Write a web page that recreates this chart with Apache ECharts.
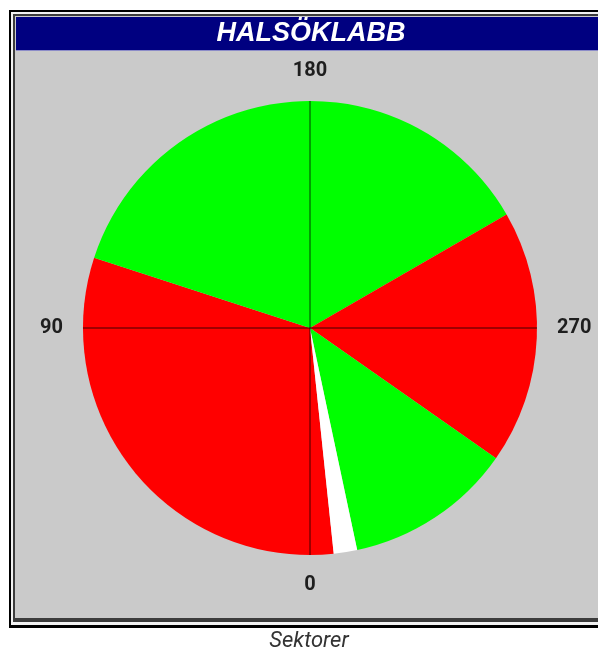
<!DOCTYPE html>
<html>
<head>
<meta charset="utf-8">
<script src="https://cdn.jsdelivr.net/npm/echarts@6/dist/echarts.min.js"></script>
<style>
  html, body { margin: 0; padding: 0; background: #fff; }
  #chart { width: 598px; height: 651px; }
</style>
</head>
<body>
<div id="chart"></div>
<script>
// sectors, angles in degrees clockwise from the bottom (0 = down, 90 = left, 180 = up, 270 = right)
var sectorStart = [354, 108, 240, 305, 348];
var sectorEnd = [108, 240, 305, 348, 354];
var sectorColors = ['#ff0000', '#00ff00', '#ff0000', '#00ff00', '#ffffff'];
var angleTicks = [0, 90, 180, 270];

var titleText = 'HALSÖKLABB';
var captionText = 'Sektorer';

var cx = 310, cy = 328, r = 227;

var pieData = sectorStart.map(function(s, i) {
  return {
    value: (sectorEnd[i] - s + 360) % 360,
    itemStyle: { color: sectorColors[i] }
  };
});

var chart = echarts.init(document.getElementById('chart'));
chart.setOption({
  animation: false,
  backgroundColor: '#ffffff',
  graphic: [
    // frame
    { type: 'rect', z: -10, shape: { x: 9, y: 10, width: 600, height: 618 }, style: { fill: '#000000' } },
    { type: 'rect', z: -9, shape: { x: 11, y: 12, width: 600, height: 613 }, style: { fill: '#f2f2f2' } },
    { type: 'rect', z: -8, shape: { x: 13, y: 14, width: 600, height: 608 }, style: { fill: '#3c3c3c' } },
    { type: 'rect', z: -7, shape: { x: 15, y: 16, width: 600, height: 602 }, style: { fill: '#cacaca' } },
    // title bar
    { type: 'rect', z: -6, shape: { x: 16, y: 17, width: 600, height: 33 }, style: { fill: '#000080' } },
    { type: 'rect', z: -6, shape: { x: 16, y: 50, width: 600, height: 1 }, style: { fill: '#8c8cc8' } },
    {
      type: 'text', z: 10, x: 311, y: 34,
      style: {
        text: titleText, fill: '#ffffff', align: 'center', verticalAlign: 'middle',
        font: 'italic bold 27px "Liberation Sans", Arial, sans-serif'
      }
    },
    {
      type: 'text', z: 10, x: 309, y: 641,
      style: {
        text: captionText, fill: '#333333', align: 'center', verticalAlign: 'middle',
        font: 'italic 22px Roboto, sans-serif'
      }
    }
  ],
  polar: { center: [cx, cy], radius: r },
  angleAxis: {
    type: 'value', min: 0, max: 360, interval: 90,
    startAngle: -90, clockwise: true, z: 5,
    axisLine: { show: false },
    axisTick: { show: false },
    splitLine: { show: true, lineStyle: { color: '#000000', width: 1, opacity: 0.75 } },
    axisLabel: {
      margin: 20, color: '#1e1e1e', fontSize: 20, fontWeight: 'bold', fontFamily: 'Roboto, sans-serif',
      formatter: function(v) { return angleTicks.indexOf(v) >= 0 ? String(v) : ''; }
    }
  },
  radiusAxis: { show: false, min: 0, max: 1 },
  series: [{
    type: 'pie',
    center: [cx, cy],
    radius: r,
    startAngle: -90 - sectorStart[0],
    clockwise: true,
    label: { show: false },
    labelLine: { show: false },
    emphasis: { disabled: true },
    silent: true,
    data: pieData
  }]
});
</script>
</body>
</html>
